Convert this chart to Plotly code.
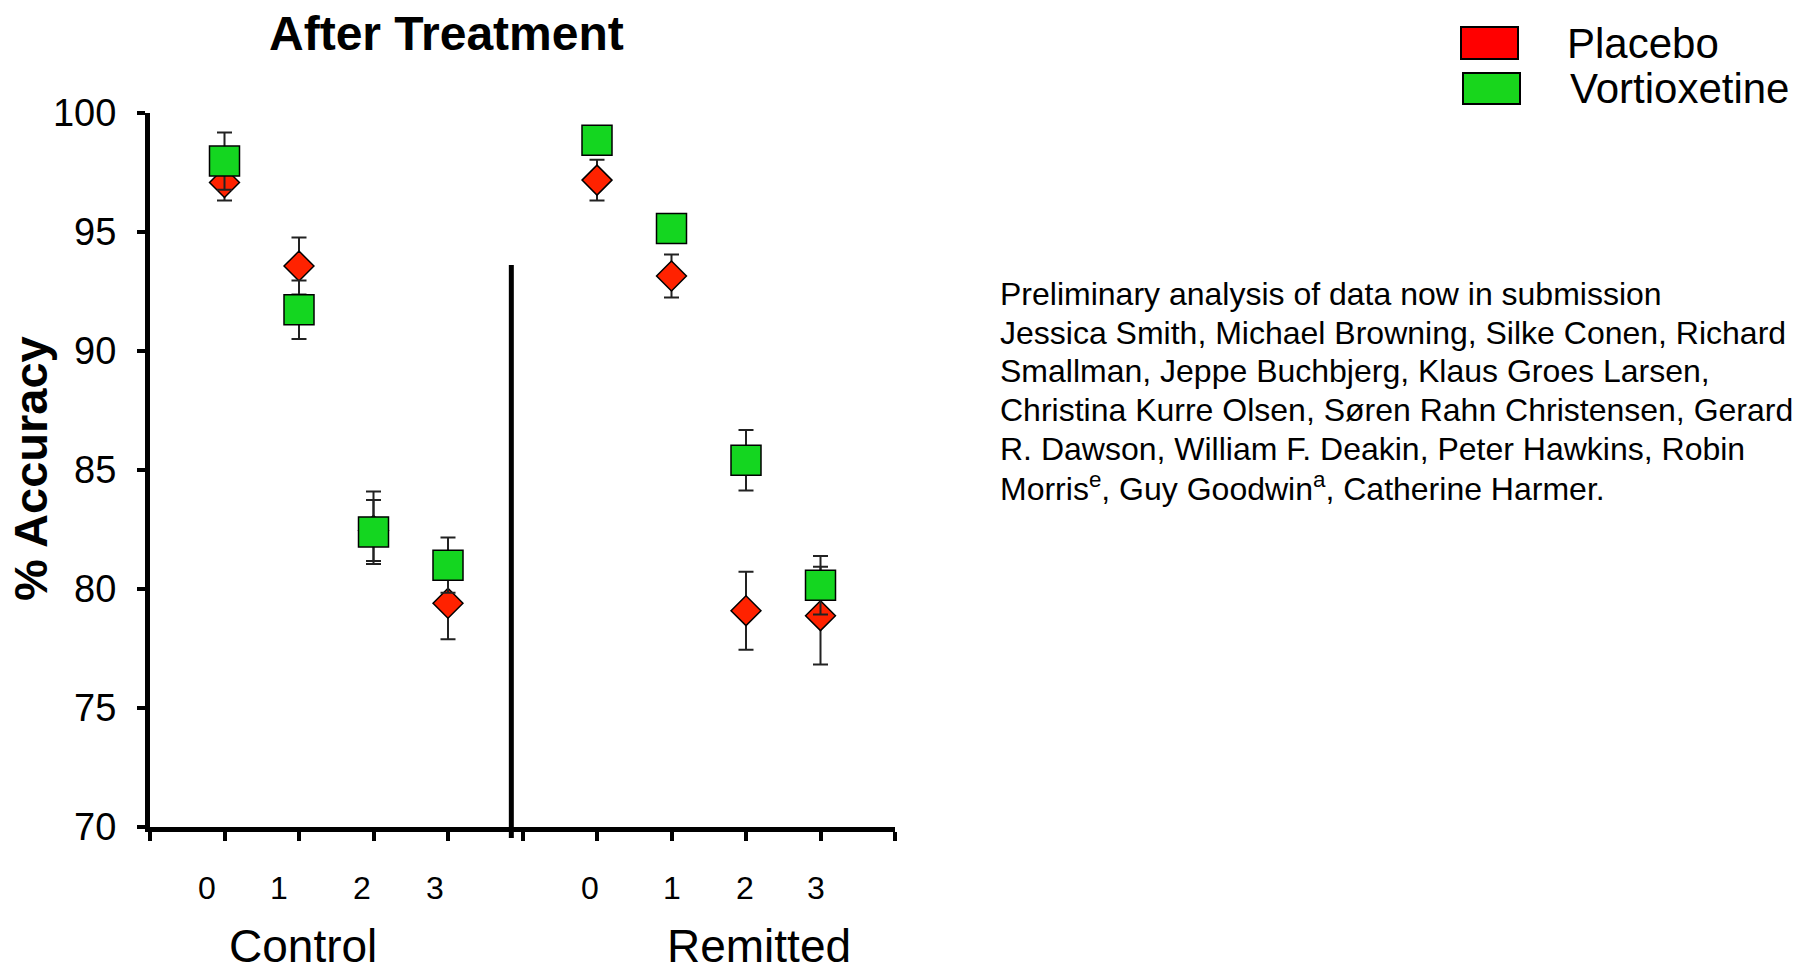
import plotly.graph_objects as go

# ---------------- data ----------------
groups = ["Control", "Remitted"]
dose_labels = ["0", "1", "2", "3"]
x_control = [0, 1, 2, 3]
x_remitted = [5, 6, 7, 8]

placebo_control = [97.08, 93.57, 82.46, 79.40]
placebo_control_err = [0.76, 1.20, 1.28, 1.51]
placebo_remitted = [97.18, 93.15, 79.09, 78.88]
placebo_remitted_err = [0.86, 0.90, 1.64, 2.05]

vort_control = [97.98, 91.73, 82.40, 81.00]
vort_control_err_plus = [1.20, 1.23, 1.70, 1.16]
vort_control_err_minus = [1.20, 1.23, 1.35, 1.16]
vort_remitted = [98.85, 95.15, 85.41, 80.16]
vort_remitted_err = [0.60, 0.60, 1.27, 1.23]

y_ticks = [70, 75, 80, 85, 90, 95, 100]
credit_lines = [
    "Preliminary analysis of data now in submission",
    "Jessica Smith, Michael Browning, Silke Conen, Richard",
    "Smallman, Jeppe Buchbjerg, Klaus Groes Larsen,",
    "Christina Kurre Olsen, Søren Rahn Christensen, Gerard",
    "R. Dawson, William F. Deakin, Peter Hawkins, Robin",
    "Morris<sup>e</sup>, Guy Goodwin<sup>a</sup>, Catherine Harmer.",
]

# ---------------- layout helpers ----------------
W, H = 1809, 976
def px(x):
    return x / W
def py(y):
    return 1 - y / H

SANS = "Liberation Sans, Arial, Helvetica, sans-serif"
RED = "#FF2200"
GREEN = "#14D620"
ERRC = "#222222"

xs = x_control + x_remitted

fig = go.Figure()
fig.add_trace(go.Scatter(
    x=xs, y=placebo_control + placebo_remitted, mode="markers", name="Placebo",
    marker=dict(symbol="diamond", size=23, color=RED, line=dict(color="black", width=1.5)),
    error_y=dict(type="data", array=placebo_control_err + placebo_remitted_err,
                 color=ERRC, thickness=2, width=7.5),
    showlegend=False,
))
fig.add_trace(go.Scatter(
    x=xs, y=vort_control + vort_remitted, mode="markers", name="Vortioxetine",
    marker=dict(symbol="square", size=30, color=GREEN, line=dict(color="black", width=1.5)),
    error_y=dict(type="data", symmetric=False,
                 array=vort_control_err_plus + vort_remitted_err,
                 arrayminus=vort_control_err_minus + vort_remitted_err,
                 color=ERRC, thickness=2, width=7.5),
    showlegend=False,
))

annotations = []
# dose tick labels
label_x = [-0.23, 0.73, 1.85, 2.83, 4.9, 6.0, 6.98, 7.94]
for lx, lab in zip(label_x, dose_labels + dose_labels):
    annotations.append(dict(x=lx, y=py(888), xref="x", yref="paper", text=lab,
                            showarrow=False, xanchor="center", yanchor="middle",
                            font=dict(family=SANS, size=32, color="black")))
# group labels
for gx, g in zip([1.06, 7.18], groups):
    annotations.append(dict(x=gx, y=py(946), xref="x", yref="paper", text=g,
                            showarrow=False, xanchor="center", yanchor="middle",
                            font=dict(family=SANS, size=46, color="black")))
# title
annotations.append(dict(x=px(446), y=py(33), xref="paper", yref="paper",
                        text="<b>After Treatment</b>", showarrow=False,
                        xanchor="center", yanchor="middle",
                        font=dict(family=SANS, size=48, color="black")))
# y axis title
annotations.append(dict(x=px(30), y=py(469), xref="paper", yref="paper",
                        text="<b>% Accuracy</b>", textangle=-90, showarrow=False,
                        xanchor="center", yanchor="middle",
                        font=dict(family=SANS, size=47, color="black")))
# legend text
annotations.append(dict(x=px(1565), y=py(44), xref="paper", yref="paper", text="Placebo",
                        showarrow=False, xanchor="left", yanchor="middle",
                        font=dict(family=SANS, size=42, color="black")))
annotations.append(dict(x=px(1568), y=py(89), xref="paper", yref="paper", text="Vortioxetine",
                        showarrow=False, xanchor="left", yanchor="middle",
                        font=dict(family=SANS, size=42, color="black")))
# credit text
line_y = [294, 333, 371, 410, 449, 487]
for ly, t in zip(line_y, credit_lines):
    annotations.append(dict(x=px(998), y=py(ly), xref="paper", yref="paper", text=t,
                            showarrow=False, xanchor="left", yanchor="middle", align="left",
                            font=dict(family=SANS, size=32, color="black")))

shapes = [
    # divider between groups
    dict(type="line", xref="x", yref="paper", x0=3.85, x1=3.85, y0=py(838), y1=py(265),
         line=dict(color="black", width=5)),
    # legend swatches
    dict(type="rect", xref="paper", yref="paper", x0=px(1461), x1=px(1518), y0=py(59), y1=py(27),
         fillcolor="#FF0000", line=dict(color="black", width=2)),
    dict(type="rect", xref="paper", yref="paper", x0=px(1463), x1=px(1520), y0=py(104), y1=py(73),
         fillcolor="#18D61C", line=dict(color="black", width=2)),
]

fig.update_layout(
    template="none",
    width=W, height=H,
    margin=dict(l=0, r=0, t=0, b=0, pad=0, autoexpand=False),
    paper_bgcolor="white", plot_bgcolor="white",
    showlegend=False,
    annotations=annotations,
    shapes=shapes,
    xaxis=dict(domain=[px(150), px(895)], range=[-1, 9], showgrid=False, zeroline=False,
               automargin=False,
               showline=True, linecolor="black", linewidth=5,
               tickmode="array", tickvals=list(range(-1, 10)), showticklabels=False,
               ticks="outside", ticklen=9, tickwidth=4, tickcolor="black"),
    yaxis=dict(domain=[py(827), py(113)], range=[70, 100], showgrid=False, zeroline=False,
               automargin=False,
               showline=True, linecolor="black", linewidth=5,
               tickmode="array", tickvals=y_ticks, ticktext=[str(v) for v in y_ticks],
               ticks="outside", ticklen=8, tickwidth=4, tickcolor="black",
               ticklabelstandoff=13,
               tickfont=dict(family=SANS, size=38, color="black")),
)

fig.write_html("out.html", config={"displayModeBar": False},
               post_script="document.body.style.margin='0';document.body.style.overflow='hidden';")
